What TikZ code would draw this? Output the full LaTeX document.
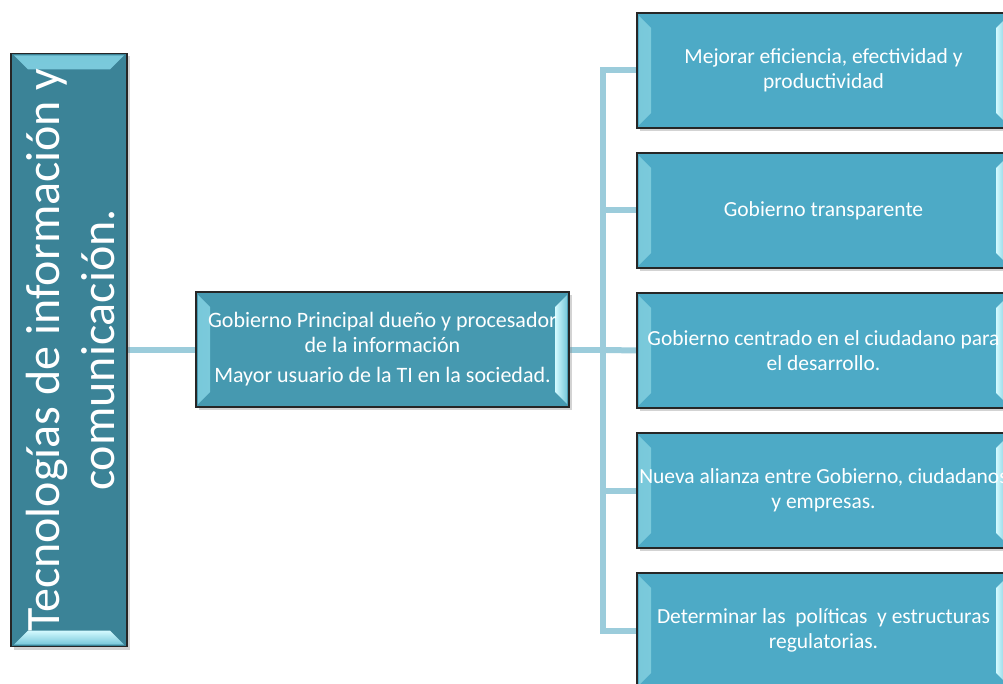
\documentclass[tikz,border=0pt]{standalone}
\usepackage{fontspec}
\setmainfont{Carlito}
\usetikzlibrary{shadows,calc}
\definecolor{leftcol}{HTML}{3B8397}
\definecolor{midcol}{HTML}{4699B0}
\definecolor{rightcol}{HTML}{4DAAC6}
\definecolor{bevout}{HTML}{78C8DA}
\definecolor{bevin}{HTML}{D4FAFF}
\definecolor{linkcol}{HTML}{9BCCDB}
\tikzset{
  x=1pt,y=-1pt,
  boxbase/.style={rectangle, draw=black!85, line width=1.4pt, text=white, align=center,
    inner sep=0pt, drop shadow={opacity=0.35, shadow xshift=3pt, shadow yshift=-3pt}},
  hbevel/.style={path picture={
    \shade[left color=bevout, right color=bevin] ($(path picture bounding box.north west)+(2pt,-3pt)$) -- ++(12pt,-12pt)
      -- ($(path picture bounding box.south west)+(14pt,15pt)$) -- ++(-12pt,-12pt) -- cycle;
    \shade[left color=bevin, right color=bevout] ($(path picture bounding box.north east)+(-2pt,-3pt)$) -- ++(-12pt,-12pt)
      -- ($(path picture bounding box.south east)+(-14pt,15pt)$) -- ++(12pt,-12pt) -- cycle;
  }},
  vbevel/.style={path picture={
    \shade[top color=bevout, bottom color=bevin] ($(path picture bounding box.north west)+(3pt,-2pt)$) -- ++(14pt,-14pt)
      -- ($(path picture bounding box.north east)+(-17pt,-16pt)$) -- ++(14pt,14pt) -- cycle;
    \shade[top color=bevin, bottom color=bevout] ($(path picture bounding box.south west)+(3pt,2pt)$) -- ++(14pt,14pt)
      -- ($(path picture bounding box.south east)+(-17pt,16pt)$) -- ++(14pt,-14pt) -- cycle;
  }},
  leftbox/.style={boxbase, fill=leftcol, vbevel, minimum width=116pt, minimum height=593pt},
  midbox/.style={boxbase, fill=midcol, hbevel, minimum width=373pt, minimum height=115pt,
    font=\fontsize{22}{25}\selectfont},
  rightbox/.style={boxbase, fill=rightcol, hbevel, minimum width=373pt, minimum height=115pt,
    font=\fontsize{21.5}{25}\selectfont},
  link/.style={draw=linkcol, line width=6pt, line join=miter}
}
\begin{document}
\begin{tikzpicture}
\useasboundingbox (0,0) rectangle (1003,684);
% connectors (drawn first, under boxes)
\coordinate (t) at (603,350);
\coordinate (l) at (127,350);
\coordinate (m1) at (196,350);
\coordinate (m2) at (569,350);
\coordinate (t1) at (640,70.5);
\coordinate (t2) at (640,210.5);
\coordinate (t3) at (640,350.5);
\coordinate (t4) at (640,490.5);
\coordinate (t5) at (640,630.5);
\draw[link] (l) -- (m1);
\draw[link] (m2) -- (t);
\draw[link] (t1) -| (t) |- (t5);
\draw[link] (t) |- (t2);
\draw[link] (t) |- (t4);
\draw[link] (t) -- (t3);
% left box
\node[leftbox] (L) at (69,350) {};
\node[rotate=90, text=white, align=center, font=\fontsize{48}{55}\selectfont] (Ltext) at ([xshift=2pt]L.center)
  {Tecnologías de información y\\ comunicación.};
% middle
\node[midbox] (M) at (382.5,349.5) {Gobierno Principal dueño y procesador\\ de la información\\[5pt] Mayor usuario de la TI en la sociedad.};
% right boxes
\node[rightbox] (R1) at (823.5,70.5) {Mejorar eficiencia, efectividad y\\ productividad};
\node[rightbox] (R2) at (823.5,210.5) {Gobierno transparente};
\node[rightbox] (R3) at (823.5,350.5) {Gobierno centrado en el ciudadano para\\ el desarrollo.};
\node[rightbox] (R4) at (823.5,490.5) {Nueva alianza entre Gobierno, ciudadanos\\ y empresas.};
\node[rightbox] (R5) at (823.5,630.5) {Determinar las\ \ políticas\ \ y estructuras\\ regulatorias.};
\end{tikzpicture}
\end{document}
